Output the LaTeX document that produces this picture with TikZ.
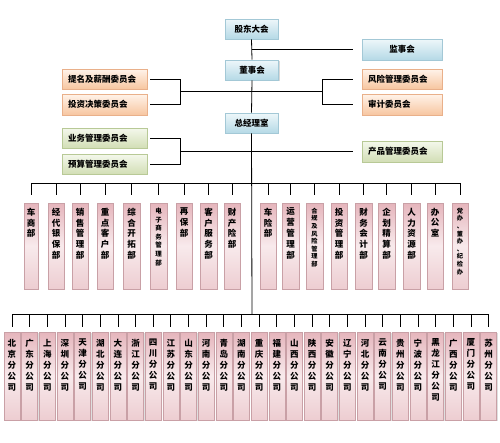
\documentclass[tikz,border=0pt]{standalone}
\usepackage{fontspec}
\newfontfamily\cjk{Noto Sans CJK SC}
\usetikzlibrary{shadows}
\definecolor{bluetop}{HTML}{EEF7FA}
\definecolor{bluebot}{HTML}{B5D9E6}
\definecolor{blueline}{HTML}{A3C8D6}
\definecolor{orgtop}{HTML}{FFF3EA}
\definecolor{orgbot}{HTML}{F7C6A0}
\definecolor{orgline}{HTML}{E9B08A}
\definecolor{grntop}{HTML}{F4F8EC}
\definecolor{grnbot}{HTML}{D2DEB5}
\definecolor{grnline}{HTML}{B8C996}
\definecolor{pnktop}{HTML}{E5B5BC}
\definecolor{pnkmid}{HTML}{F8EAEC}
\definecolor{pnkbot}{HTML}{EDCDD1}
\definecolor{pnkline}{HTML}{C9A0A6}
\begin{document}
\begin{tikzpicture}[x=1pt,y=-1pt,
  base/.style={rectangle, inner sep=0pt, line width=0.6pt, text=black,
    font={\cjk\bfseries\fontsize{8.5pt}{10pt}\selectfont},
    drop shadow={shadow xshift=1pt,shadow yshift=-1pt,opacity=0.3}},
  bluebox/.style={base, draw=blueline, top color=bluetop, bottom color=bluebot,
    minimum width=53pt, minimum height=20pt},
  orgbox/.style={base, draw=orgline, top color=orgtop, bottom color=orgbot,
    minimum height=20pt, inner xsep=6pt, align=left},
  grnbox/.style={base, draw=grnline, top color=grntop, bottom color=grnbot,
    minimum height=20pt, inner xsep=6pt, align=left},
  lbox/.style={text width=73pt},
  rbox/.style={text width=68pt},
  vbox/.style={rectangle, draw=pnkline, line width=0.5pt, top color=pnktop,
    bottom color=pnkbot, middle color=pnkmid,
    drop shadow={shadow xshift=1pt,shadow yshift=-1pt,opacity=0.25}},
  vt/.style={anchor=north, inner sep=0pt, align=center, text=black,
    font={\cjk\bfseries\fontsize{8.5pt}{10.8pt}\selectfont}},
  vtb/.style={vt, font={\cjk\bfseries\fontsize{6.5pt}{8.6pt}\selectfont}},
  vtc/.style={vt, font={\cjk\bfseries\fontsize{6.2pt}{7.6pt}\selectfont}},
  vtd/.style={vt, font={\cjk\bfseries\fontsize{8.5pt}{11pt}\selectfont}},
  ln/.style={line width=0.8pt, black}]
\fill[white] (0,0) rectangle (500,442);
% top level
\node[bluebox] (gd) at (251.5,29) {股东大会};
\node[bluebox] (ds) at (252,70) {董事会};
\node[bluebox] (gm) at (251.5,123) {总经理室};
\node[bluebox, minimum width=80pt, minimum height=21pt, align=center] (js) at (402,49.5) {监事会};
\node[orgbox, lbox] (c1) at (104.5,79) {提名及薪酬委员会};
\node[orgbox, lbox, minimum height=21pt] (c2) at (104.5,104.5) {投资决策委员会};
\node[orgbox, rbox] (r1) at (402,79) {风险管理委员会};
\node[orgbox, rbox, minimum height=21pt] (r2) at (402,104.5) {审计委员会};
\node[grnbox, lbox] (g1) at (104.5,138) {业务管理委员会};
\node[grnbox, lbox] (g2) at (104.5,164) {预算管理委员会};
\node[grnbox, rbox, minimum height=21pt] (p1) at (402,151.5) {产品管理委员会};
\coordinate (k1) at (180,91);
\coordinate (k2) at (322,91);
\coordinate (k3) at (180,151);
\coordinate (dh) at (252,183);
\coordinate (bh) at (252,314);
% connectors top
\draw[ln] (gd.south) -- (ds.north);
\draw[ln, shorten >=9pt] (gd.south |- js.west) -- (js.west);
\draw[ln, shorten <=3pt] (c1.east) -| (k1);
\draw[ln, shorten <=3pt] (c2.east) -| (k1);
\draw[ln] (k1) -- (k2);
\draw[ln, shorten <=9pt] (r1.west) -| (k2);
\draw[ln, shorten <=9pt] (r2.west) -| (k2);
\draw[ln] (ds.south) -- (gm.north);
\draw[ln, shorten <=3pt] (g1.east) -| (k3);
\draw[ln, shorten <=3pt] (g2.east) -| (k3);
\draw[ln, shorten >=9pt] (k3) -- (k3 -| p1.west);
\draw[ln] (gm.south) -- (bh);
% departments
\foreach \n/\x/\w/\sty/\txt in {
  1/31/14/vt/{车\\商\\部},
  2/56/16/vt/{经\\代\\银\\保\\部},
  3/80/16/vt/{销\\售\\管\\理\\部},
  4/105/16/vt/{重\\点\\客\\户\\部},
  5/131.5/17/vt/{综\\合\\开\\拓\\部},
  6/158.5/17/vtb/{电\\子\\商\\务\\管\\理\\部},
  7/184/16/vt/{再\\保\\部},
  8/208.5/17/vt/{客\\户\\服\\务\\部},
  9/232/16/vt/{财\\产\\险\\部},
  10/268/16/vt/{车\\险\\部},
  11/290.5/17/vt/{运\\营\\管\\理\\部},
  12/314.5/17/vtc/{合\\规\\及\\风\\险\\管\\理\\部},
  13/339/16/vt/{投\\资\\管\\理\\部},
  14/363.5/17/vt/{财\\务\\会\\计\\部},
  15/386.5/17/vt/{企\\划\\精\\算\\部},
  16/411.5/17/vt/{人\\力\\资\\源\\部},
  17/435/16/vt/{办\\公\\室},
  18/460/16/vtc/{党\\办\\、\\董\\办\\、\\纪\\检\\办}}{
  \node[vbox, minimum width=\w, minimum height=86pt] (d\n) at (\x,246) {};
  \node[\sty] (dt\n) at ([yshift=-5pt]d\n.north) {\txt};
  \draw[ln, shorten <=8pt] (d\n.north) -- (d\n.north |- dh);
}
\draw[ln] (d1.north |- dh) -- (d18.north |- dh);
% branches
\foreach \txt [count=\i] in {
  {北\\京\\分\\公\\司},{广\\东\\分\\公\\司},{上\\海\\分\\公\\司},{深\\圳\\分\\公\\司},
  {天\\津\\分\\公\\司},{湖\\北\\分\\公\\司},{大\\连\\分\\公\\司},{浙\\江\\分\\公\\司},
  {四\\川\\分\\公\\司},{江\\苏\\分\\公\\司},{山\\东\\分\\公\\司},{河\\南\\分\\公\\司},
  {青\\岛\\分\\公\\司},{湖\\南\\分\\公\\司},{重\\庆\\分\\公\\司},{福\\建\\分\\公\\司},
  {山\\西\\分\\公\\司},{陕\\西\\分\\公\\司},{安\\徽\\分\\公\\司},{辽\\宁\\分\\公\\司},
  {河\\北\\分\\公\\司},{云\\南\\分\\公\\司},{贵\\州\\分\\公\\司},{宁\\波\\分\\公\\司},
  {黑\\龙\\江\\分\\公\\司},{广\\西\\分\\公\\司},{厦\\门\\分\\公\\司},{苏\\州\\分\\公\\司}}{
  \pgfmathsetmacro\bx{12+(\i-1)*17.65}
  \node[vbox, minimum width=16pt, minimum height=88pt] (b\i) at (\bx,376) {};
  \node[vtd] (bt\i) at ([yshift=-7pt]b\i.north) {\txt};
  \draw[ln, shorten <=5pt] (b\i.north) -- (b\i.north |- bh);
}
\draw[ln] (b1.north |- bh) -- (b28.north |- bh);
\end{tikzpicture}
\end{document}
